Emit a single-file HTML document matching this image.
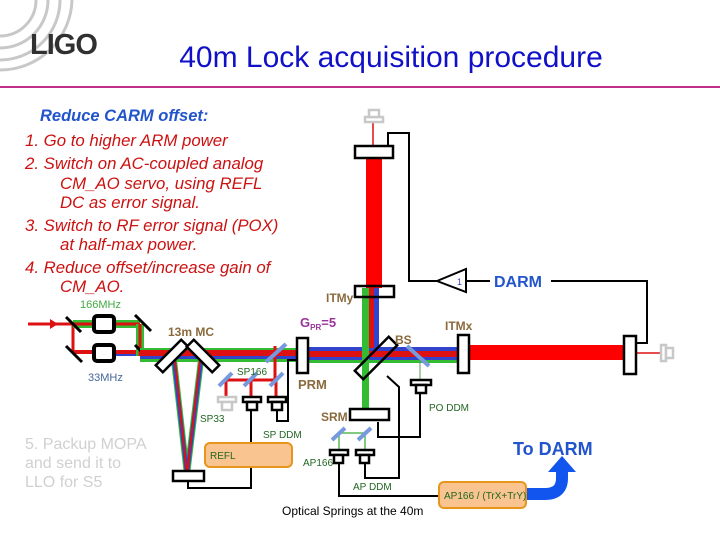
<!DOCTYPE html>
<html><head><style>
html,body{margin:0;padding:0;background:#fff;}
svg{display:block;font-family:"Liberation Sans",Arial,sans-serif;}
</style></head><body>
<svg width="720" height="540" viewBox="0 0 720 540" xmlns="http://www.w3.org/2000/svg">
<g fill="none" stroke="#c8c8c8" stroke-width="3">
<path d="M0,60 A60,60 0 0 0 60,0"/>
<path d="M0,70 A72,72 0 0 0 72,0"/>
<path d="M0,48 A48,48 0 0 0 48,0"/>
<path d="M0,36 A36,36 0 0 0 36,0"/>
</g>
<text x="30" y="54" font-size="29" font-weight="bold" fill="#303030" letter-spacing="-1">LIGO</text>
<text x="391" y="67" font-size="30" fill="#1010c8" text-anchor="middle">40m Lock acquisition procedure</text>
<rect x="0" y="86" width="720" height="2" fill="#c0308a"/>

<text x="40" y="121" font-size="16.5" font-weight="bold" font-style="italic" fill="#2255cc">Reduce CARM offset:</text>
<g font-size="16.8" font-style="italic" fill="#cc1111">
<text x="25" y="146">1. Go to higher ARM power</text>
<text x="25" y="169">2. Switch on AC-coupled analog</text>
<text x="60" y="189">CM_AO servo, using REFL</text>
<text x="60" y="208">DC as error signal.</text>
<text x="25" y="231">3. Switch to RF error signal (POX)</text>
<text x="60" y="250">at half-max power.</text>
<text x="25" y="273">4. Reduce offset/increase gain of</text>
<text x="60" y="292">CM_AO.</text>
</g>
<g font-size="16" fill="#d0d0d0">
<text x="25" y="449">5. Packup MOPA</text>
<text x="25" y="468">and send it to</text>
<text x="25" y="487">LLO for S5</text>
</g>

<line x1="28" y1="324" x2="73" y2="324" stroke="#dd1111" stroke-width="3"/>
<polygon points="50,319 58,324 50,329" fill="#dd1111"/>
<line x1="73" y1="324" x2="73" y2="352" stroke="#dd1111" stroke-width="3"/>
<line x1="73" y1="324" x2="140" y2="324" stroke="#33bb33" stroke-width="8"/>
<line x1="73" y1="324" x2="140" y2="324" stroke="#dd1111" stroke-width="3"/>
<line x1="73" y1="352" x2="140" y2="352" stroke="#dd1111" stroke-width="4"/>
<line x1="110" y1="355" x2="140" y2="355" stroke="#3344cc" stroke-width="2"/>
<line x1="140" y1="324" x2="140" y2="356" stroke="#33bb33" stroke-width="8"/>
<line x1="140" y1="324" x2="140" y2="356" stroke="#dd1111" stroke-width="3"/>
<g stroke="#000" stroke-width="3">
<line x1="66" y1="317" x2="81" y2="332"/>
<line x1="66" y1="346" x2="82" y2="362"/>
<line x1="135" y1="315" x2="151" y2="331"/>
<line x1="135" y1="345" x2="151" y2="361"/>
</g>
<rect x="94" y="316" width="20" height="16" rx="3" fill="#fff" stroke="#000" stroke-width="4"/>
<rect x="94" y="345" width="20" height="16" rx="3" fill="#fff" stroke="#000" stroke-width="4"/>
<text x="80" y="308" font-size="11" fill="#44aa44">166MHz</text>
<text x="88" y="381" font-size="11" fill="#446699">33MHz</text>

<rect x="140" y="348" width="160" height="14" fill="#33bb33"/>
<rect x="140" y="350" width="160" height="6" fill="#dd1111"/>
<rect x="140" y="356" width="160" height="3" fill="#3344cc"/>
<g stroke-width="6" fill="none">
<path d="M174,360 L187,475 L201,360" stroke="#33bb33"/>
<path d="M174,360 L187,475 L201,360" stroke="#3344cc" stroke-width="4"/>
<path d="M175,360 L187,475 L200,360" stroke="#dd1111" stroke-width="2"/>
</g>
<g fill="#fff" stroke="#000" stroke-width="2.5">
<rect x="-5" y="-18" width="10" height="36" transform="translate(172,356) rotate(45)"/>
<rect x="-5" y="-18" width="10" height="36" transform="translate(203,356) rotate(-45)"/>
<rect x="173" y="471" width="31" height="10"/>
</g>
<polyline points="188,481 188,488 251,488 251,467" fill="none" stroke="#000" stroke-width="2"/>
<text x="168" y="336" font-size="12" font-weight="bold" fill="#8b6a3e">13m MC</text>

<polyline points="226,398 226,380 275,380 275,346" fill="none" stroke="#dd1111" stroke-width="3"/>
<line x1="251" y1="380" x2="251" y2="398" stroke="#dd1111" stroke-width="3"/>
<line x1="276" y1="380" x2="276" y2="398" stroke="#dd1111" stroke-width="3"/>
<g stroke="#7799dd" stroke-width="4">
<line x1="219" y1="386" x2="232" y2="373"/>
<line x1="244" y1="386" x2="257" y2="373"/>
<line x1="270" y1="386" x2="283" y2="373"/>
<line x1="266" y1="362" x2="286" y2="344"/>
</g>
<g fill="#fff" stroke-width="2.5">
<rect x="218" y="397" width="18" height="5" stroke="#c8c8c8"/><rect x="222" y="402" width="10" height="8" stroke="#c8c8c8"/>
<rect x="243" y="397" width="18" height="5" stroke="#000"/><rect x="247" y="402" width="10" height="8" stroke="#000"/>
<rect x="268" y="397" width="18" height="5" stroke="#000"/><rect x="272" y="402" width="10" height="8" stroke="#000"/>
</g>
<line x1="251" y1="410" x2="251" y2="445" stroke="#000" stroke-width="2"/>
<polyline points="277,410 277,421 288,421 288,360 297,360" fill="none" stroke="#000" stroke-width="2"/>
<text x="237" y="375" font-size="10" fill="#226622">SP166</text>
<text x="200" y="422" font-size="10" fill="#226622">SP33</text>
<text x="263" y="438" font-size="10" fill="#226622">SP DDM</text>
<rect x="205" y="443" width="87" height="24" rx="5" fill="#f9c48f" stroke="#e8951c" stroke-width="2"/>
<text x="210" y="459" font-size="10" fill="#226622">REFL</text>

<rect x="307" y="347" width="160" height="16" fill="#33bb33"/>
<rect x="307" y="347" width="160" height="13" fill="#3344cc"/>
<rect x="307" y="351" width="160" height="6" fill="#dd1111"/>
<rect x="297" y="338" width="11" height="35" fill="#fff" stroke="#000" stroke-width="2.5"/>
<text x="298" y="389" font-size="13" font-weight="bold" fill="#8b6a3e">PRM</text>
<text x="300" y="327" font-size="13" font-weight="bold" fill="#993399">G<tspan font-size="8" dy="3">PR</tspan><tspan dy="-3">=5</tspan></text>

<line x1="373" y1="122" x2="373" y2="150" stroke="#dd1111" stroke-width="1.5"/>
<rect x="366" y="158" width="16" height="130" fill="#ff0000"/>
<rect x="362" y="288" width="7" height="124" fill="#33bb33"/>
<rect x="374" y="288" width="5" height="60" fill="#3344cc"/>
<rect x="369" y="288" width="5" height="60" fill="#dd1111"/>
<g fill="#fff" stroke="#c8c8c8" stroke-width="2.5">
<rect x="365" y="117" width="18" height="5"/><rect x="369" y="110" width="10" height="7"/>
</g>
<rect x="355" y="146" width="38" height="12" fill="#fff" stroke="#000" stroke-width="2.5"/>
<rect x="355" y="286" width="39" height="11" fill="none" stroke="#000" stroke-width="2.5"/>
<text x="326" y="302" font-size="12" font-weight="bold" fill="#8b6a3e">ITMy</text>
<rect x="469" y="345" width="156" height="15" fill="#ff0000"/>
<line x1="636" y1="353" x2="660" y2="353" stroke="#dd1111" stroke-width="1.5"/>
<g fill="#fff" stroke="#c8c8c8" stroke-width="2.5">
<rect x="661" y="345" width="5" height="16"/><rect x="666" y="348" width="7" height="10"/>
</g>
<rect x="458" y="335" width="11" height="38" fill="#fff" stroke="#000" stroke-width="2.5"/>
<rect x="624" y="336" width="12" height="38" fill="#fff" stroke="#000" stroke-width="2.5"/>
<text x="445" y="330" font-size="12" font-weight="bold" fill="#8b6a3e">ITMx</text>
<rect x="-6" y="-24" width="12" height="48" fill="none" stroke="#000" stroke-width="2.5" transform="translate(376,358) rotate(45)"/>
<text x="395" y="344" font-size="12" font-weight="bold" fill="#8b6a3e">BS</text>
<line x1="407" y1="346" x2="429" y2="366" stroke="#7799dd" stroke-width="4"/>
<line x1="420" y1="360" x2="420" y2="380" stroke="#559955" stroke-width="1"/>
<g fill="#fff" stroke="#000" stroke-width="2.5">
<rect x="411" y="380" width="20" height="5"/><rect x="416" y="385" width="10" height="8"/>
</g>
<polyline points="420,393 420,437 378,437 378,422" fill="none" stroke="#000" stroke-width="2"/>
<text x="429" y="411" font-size="10" fill="#226622">PO DDM</text>
<rect x="350" y="409" width="39" height="11" fill="#fff" stroke="#000" stroke-width="2.5"/>
<text x="321" y="421" font-size="12" font-weight="bold" fill="#8b6a3e">SRM</text>
<polyline points="339,449 339,433 365,433 365,449" fill="none" stroke="#55bb55" stroke-width="1.5"/>
<g stroke="#7799dd" stroke-width="4">
<line x1="332" y1="440" x2="345" y2="428"/>
<line x1="358" y1="440" x2="371" y2="428"/>
</g>
<g fill="#fff" stroke="#000" stroke-width="2.5">
<rect x="330" y="450" width="18" height="5"/><rect x="334" y="455" width="9" height="8"/>
<rect x="356" y="450" width="18" height="5"/><rect x="360" y="455" width="9" height="8"/>
</g>
<polyline points="365,463 365,478 399,478 399,387 387,376" fill="none" stroke="#000" stroke-width="2"/>
<polyline points="339,463 339,496 440,496" fill="none" stroke="#000" stroke-width="2"/>
<text x="303" y="466" font-size="10" fill="#226622">AP166</text>
<text x="353" y="490" font-size="10" fill="#226622">AP DDM</text>

<polyline points="388,146 388,133 409,133 409,281 437,281" fill="none" stroke="#000" stroke-width="2"/>
<polygon points="437,281 466,269 466,292" fill="#fff" stroke="#000" stroke-width="2"/>
<text x="457" y="285" font-size="9" fill="#3344cc">1</text>
<line x1="466" y1="281" x2="490" y2="281" stroke="#000" stroke-width="2"/>
<text x="494" y="287" font-size="16" font-weight="bold" fill="#2255cc">DARM</text>
<polyline points="551,281 647,281 647,343 637,343" fill="none" stroke="#000" stroke-width="2"/>

<path d="M526,494 L545,494 Q562,494 562,478 L562,470" fill="none" stroke="#1155ee" stroke-width="12"/>
<polygon points="548,472 562,456 576,472" fill="#1155ee"/>
<rect x="439" y="482" width="87" height="26" rx="5" fill="#f9c48f" stroke="#e8951c" stroke-width="2"/>
<text x="444" y="499" font-size="10" fill="#226622">AP166 / (TrX+TrY)</text>
<text x="513" y="455" font-size="18" font-weight="bold" fill="#2255cc">To DARM</text>
<text x="282" y="515" font-size="12" fill="#000">Optical Springs at the 40m</text>
</svg>
</body></html>
